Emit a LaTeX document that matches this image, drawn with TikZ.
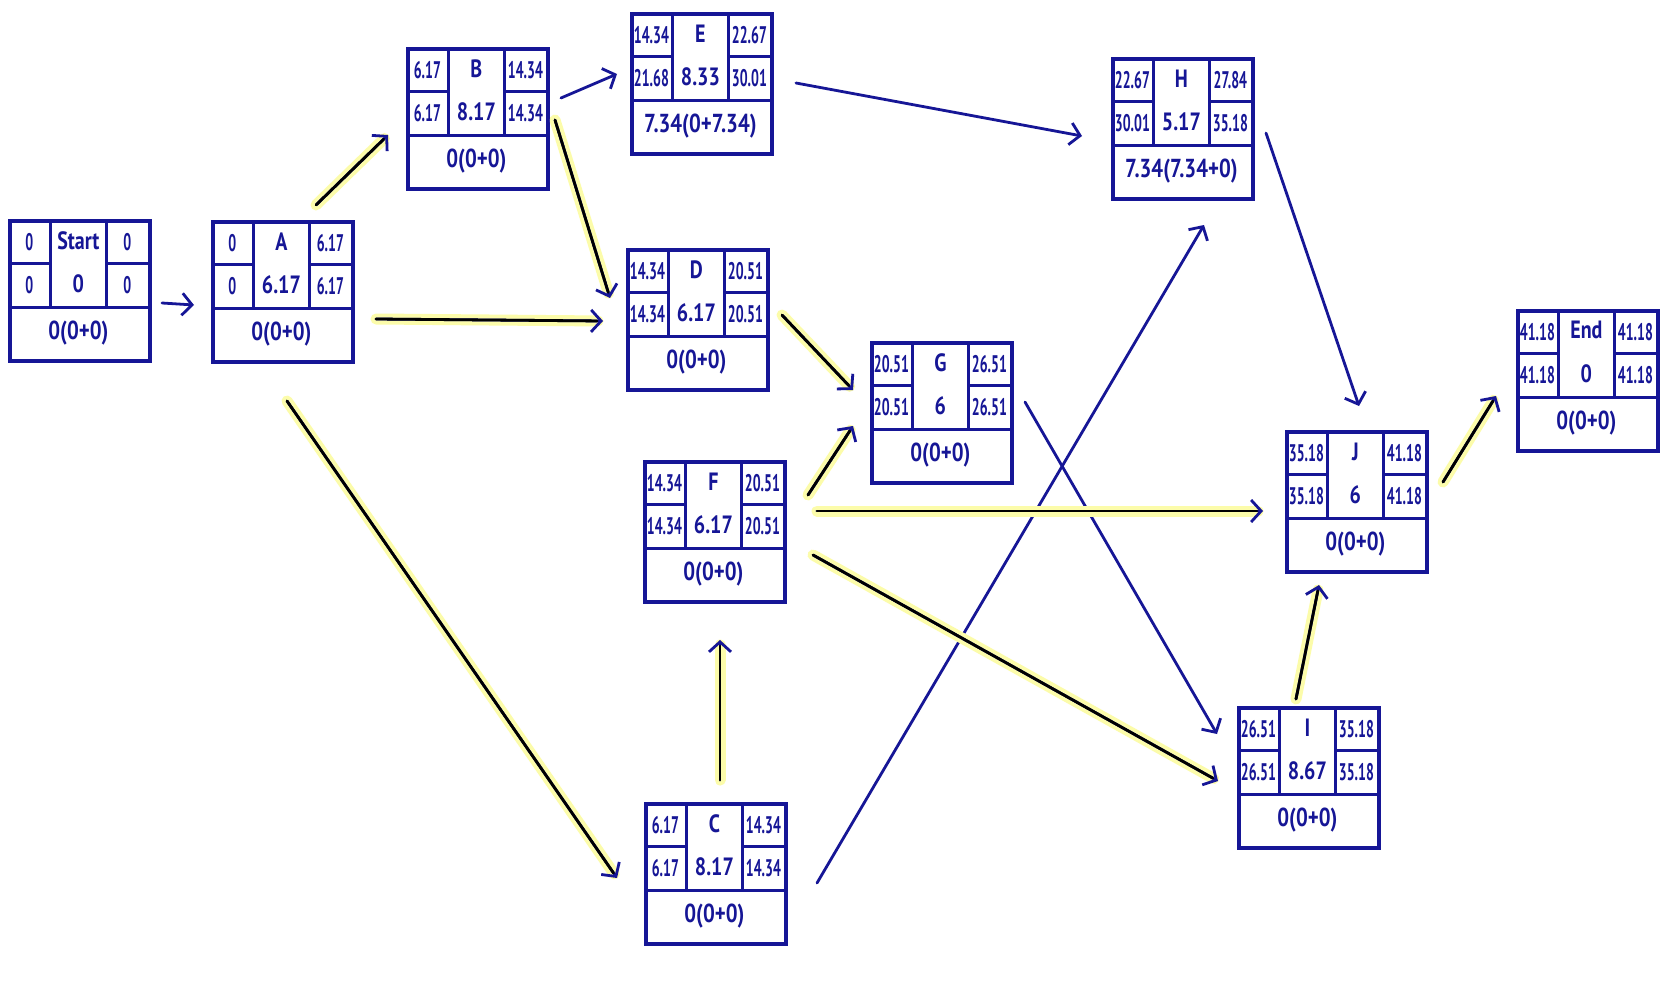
\documentclass[tikz,border=0pt]{standalone}
\usepackage{fontspec}
\usepackage{graphicx}
\setmainfont{PT Sans}
\usetikzlibrary{arrows.meta,calc}
\definecolor{ink}{RGB}{22,22,150}
\definecolor{glowc}{RGB}{252,252,170}
\newcommand\narrow[2]{\scalebox{#1}[1]{#2}}
\tikzset{
  box/.style={draw=ink,line width=3.2pt,minimum width=140pt,minimum height=140pt,inner sep=0pt},
  inner/.style={draw=ink,line width=2.8pt},
  cell/.style={text=ink,font=\fontsize{24}{26}\selectfont\bfseries,inner sep=0pt},
  lab/.style={text=ink,font=\fontsize{25}{27}\selectfont\bfseries,inner sep=0pt},
  bot/.style={text=ink,font=\fontsize{26}{28}\selectfont\bfseries,inner sep=0pt},
  tip/.style={-{Straight Barb[length=10pt,width=22pt,line width=2.8pt]}},
  plain/.style={draw=ink,line width=2.8pt,line cap=round,tip},
  glow/.style={draw=glowc,line width=11pt,line cap=round},
  critline/.style={draw=black,line width=2.8pt,line cap=round},
}
\newcommand\actbox[9]{%
  \node[box] (#1) at #2 {};
  \draw[inner] ($(#1.north west)+(0,88)$) -- ($(#1.north east)+(0,88)$);
  \draw[inner] ($(#1.north west)+(42,0)$) -- ($(#1.north west)+(42,88)$);
  \draw[inner] ($(#1.north west)+(98,0)$) -- ($(#1.north west)+(98,88)$);
  \draw[inner] ($(#1.north west)+(0,44)$) -- ($(#1.north west)+(42,44)$);
  \draw[inner] ($(#1.north west)+(98,44)$) -- ($(#1.north east)+(0,44)$);
  \node[cell] (#1tl) at ($(#1.north west)+(21,23)$) {\narrow{0.58}{#3}};
  \node[lab]  (#1nm) at ($(#1.north west)+(70,21)$) {\narrow{0.8}{#4}};
  \node[cell] (#1tr) at ($(#1.north west)+(119,23)$) {\narrow{0.58}{#5}};
  \node[cell] (#1bl) at ($(#1.north west)+(21,66)$) {\narrow{0.58}{#6}};
  \node[lab]  (#1md) at ($(#1.north west)+(70,64)$) {\narrow{0.8}{#7}};
  \node[cell] (#1br) at ($(#1.north west)+(119,66)$) {\narrow{0.58}{#8}};
  \node[bot]  (#1bt) at ($(#1.north west)+(70,114)$) {\narrow{0.8}{#9}};
}
\newcommand\plainarrow[2]{\draw[plain] (#1) -- (#2);}
\newcommand\critarrow[2]{%
  \draw[glow] (#1) -- ($(#2)!5pt!(#1)$);
  \draw[plain] (#1) -- (#2);
  \draw[critline] (#1) -- ($(#2)!6pt!(#1)$);
}
\begin{document}
\begin{tikzpicture}[x=1pt,y=-1pt]
\useasboundingbox (0,0) rectangle (1668,998);
\fill[white] (0,0) rectangle (1668,998);

\coordinate (sa1) at (162,303);  \coordinate (sa2) at (194,305);
\coordinate (ab1) at (316,205);  \coordinate (ab2) at (388,135);
\coordinate (be1) at (561,98);   \coordinate (be2) at (617,74);
\coordinate (bd1) at (555,120);  \coordinate (bd2) at (610,298);
\coordinate (ad1) at (376,319);  \coordinate (ad2) at (603,321);
\coordinate (ac1) at (287,401);  \coordinate (ac2) at (617,878);
\coordinate (eh1) at (796,83);   \coordinate (eh2) at (1082,136);
\coordinate (dg1) at (782,315);  \coordinate (dg2) at (853,390);
\coordinate (fg1) at (808,495);  \coordinate (fg2) at (853,426);
\coordinate (cf1) at (720,780);  \coordinate (cf2) at (720,640);
\coordinate (ch1) at (817,883);  \coordinate (ch2) at (1204,225);
\coordinate (gi1) at (1025,402); \coordinate (gi2) at (1217,734);
\coordinate (fj1) at (817,511);  \coordinate (fj2) at (1263,511);
\coordinate (fi1) at (813,555);  \coordinate (fi2) at (1218,781);
\coordinate (hj1) at (1266,133); \coordinate (hj2) at (1359,406);
\coordinate (ij1) at (1296,699); \coordinate (ij2) at (1319,585);
\coordinate (je1) at (1443,482); \coordinate (je2) at (1496,396);

\actbox{St}{(80,291)}{0}{Start}{0}{0}{0}{0}{0(0+0)}
\actbox{A}{(283,292)}{0}{A}{6.17}{0}{6.17}{6.17}{0(0+0)}
\actbox{B}{(478,119)}{6.17}{B}{14.34}{6.17}{8.17}{14.34}{0(0+0)}
\actbox{E}{(702,84)}{14.34}{E}{22.67}{21.68}{8.33}{30.01}{7.34(0+7.34)}
\actbox{H}{(1183,129)}{22.67}{H}{27.84}{30.01}{5.17}{35.18}{7.34(7.34+0)}
\actbox{D}{(698,320)}{14.34}{D}{20.51}{14.34}{6.17}{20.51}{0(0+0)}
\actbox{G}{(942,413)}{20.51}{G}{26.51}{20.51}{6}{26.51}{0(0+0)}
\actbox{F}{(715,532)}{14.34}{F}{20.51}{14.34}{6.17}{20.51}{0(0+0)}
\actbox{J}{(1357,502)}{35.18}{J}{41.18}{35.18}{6}{41.18}{0(0+0)}
\actbox{En}{(1588,381)}{41.18}{End}{41.18}{41.18}{0}{41.18}{0(0+0)}
\actbox{I}{(1309,778)}{26.51}{I}{35.18}{26.51}{8.67}{35.18}{0(0+0)}
\actbox{C}{(716,874)}{6.17}{C}{14.34}{6.17}{8.17}{14.34}{0(0+0)}

\plainarrow{sa1}{sa2}
\plainarrow{be1}{be2}
\plainarrow{eh1}{eh2}
\plainarrow{ch1}{ch2}
\plainarrow{gi1}{gi2}
\plainarrow{hj1}{hj2}
\critarrow{ab1}{ab2}
\critarrow{bd1}{bd2}
\critarrow{ad1}{ad2}
\critarrow{ac1}{ac2}
\critarrow{dg1}{dg2}
\critarrow{fg1}{fg2}
\critarrow{cf1}{cf2}
\critarrow{fj1}{fj2}
\critarrow{fi1}{fi2}
\critarrow{ij1}{ij2}
\critarrow{je1}{je2}
\end{tikzpicture}
\end{document}
